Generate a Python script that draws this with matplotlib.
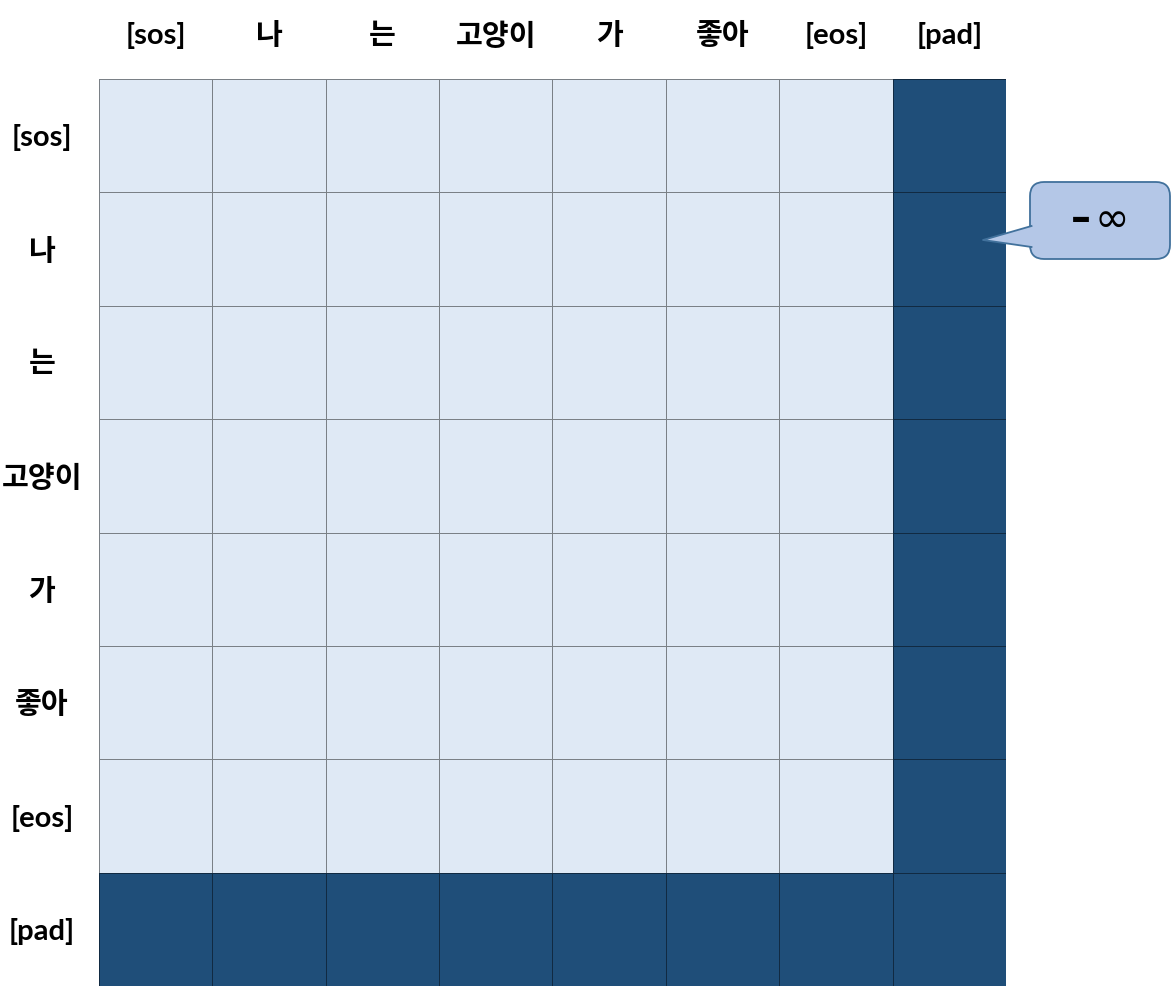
import numpy as np
import matplotlib.pyplot as plt
from matplotlib.colors import ListedColormap
from matplotlib.patches import FancyBboxPatch, Polygon

plt.rcParams['font.family'] = ['Lato', 'Noto Sans CJK KR', 'DejaVu Sans']

tokens = ["[sos]", "나", "는", "고양이", "가", "좋아", "[eos]", "[pad]"]
# 1 = masked (pad), 0 = visible
mask = [
    [0, 0, 0, 0, 0, 0, 0, 1],
    [0, 0, 0, 0, 0, 0, 0, 1],
    [0, 0, 0, 0, 0, 0, 0, 1],
    [0, 0, 0, 0, 0, 0, 0, 1],
    [0, 0, 0, 0, 0, 0, 0, 1],
    [0, 0, 0, 0, 0, 0, 0, 1],
    [0, 0, 0, 0, 0, 0, 0, 1],
    [1, 1, 1, 1, 1, 1, 1, 1],
]
callout_sign = "–"
callout_value = "∞"

W, H = 1175, 999
fig = plt.figure(figsize=(W / 100, H / 100), dpi=100)
ax = fig.add_axes([99 / W, 13 / H, 907 / W, 907 / H])

cmap = ListedColormap(["#dfe9f5", "#1f4e79"])
n = len(tokens)
ax.pcolormesh(np.arange(n + 1), np.arange(n + 1), np.array(mask), cmap=cmap,
              edgecolor=(0, 0, 0, 0.45), linewidth=0.7, vmin=0, vmax=1)
ax.set_xlim(0, n)
ax.set_ylim(n, 0)
ax.set_xticks([])
ax.set_yticks([])
for s in ax.spines.values():
    s.set_visible(False)

# column labels on top, row labels on the left
for i, t in enumerate(tokens):
    ax.text(i + 0.5, -0.38, t, ha="center", va="center", fontsize=21,
            fontweight="bold", clip_on=False)
    fig.text(42 / W, 1 - (81 + 113.4 * (i + 0.5)) / H, t, ha="center",
             va="center", fontsize=21, fontweight="bold")

# callout bubble pointing at the pad column
face, edge = "#b4c7e7", "#41719c"
x0, y0, x1, y1 = 1030, 182, 1170, 259
box = FancyBboxPatch((x0 / W, 1 - y1 / H), (x1 - x0) / W, (y1 - y0) / H,
                     boxstyle="round,pad=0,rounding_size=0.012",
                     transform=fig.transFigure, facecolor=face, edgecolor=edge,
                     linewidth=1.3, mutation_aspect=W / H)
fig.patches.append(box)
tip = (983 / W, 1 - 240 / H)
b1 = (1031.5 / W, 1 - 226 / H)
b2 = (1031.5 / W, 1 - 247 / H)
fig.patches.append(Polygon([b1, tip, b2], closed=True, transform=fig.transFigure,
                           facecolor=face, edgecolor="none"))
fig.lines.append(plt.Line2D([b1[0], tip[0], b2[0]], [b1[1], tip[1], b2[1]],
                            transform=fig.transFigure, color=edge, linewidth=1.3))
fig.text(1081 / W, 1 - 220 / H, callout_sign, ha="center", va="center",
         fontsize=29, fontweight="bold", family="DejaVu Sans")
fig.text(1112 / W, 1 - 220 / H, callout_value, ha="center", va="center",
         fontsize=30, family="DejaVu Sans")

fig.savefig("out.png", dpi=100)
